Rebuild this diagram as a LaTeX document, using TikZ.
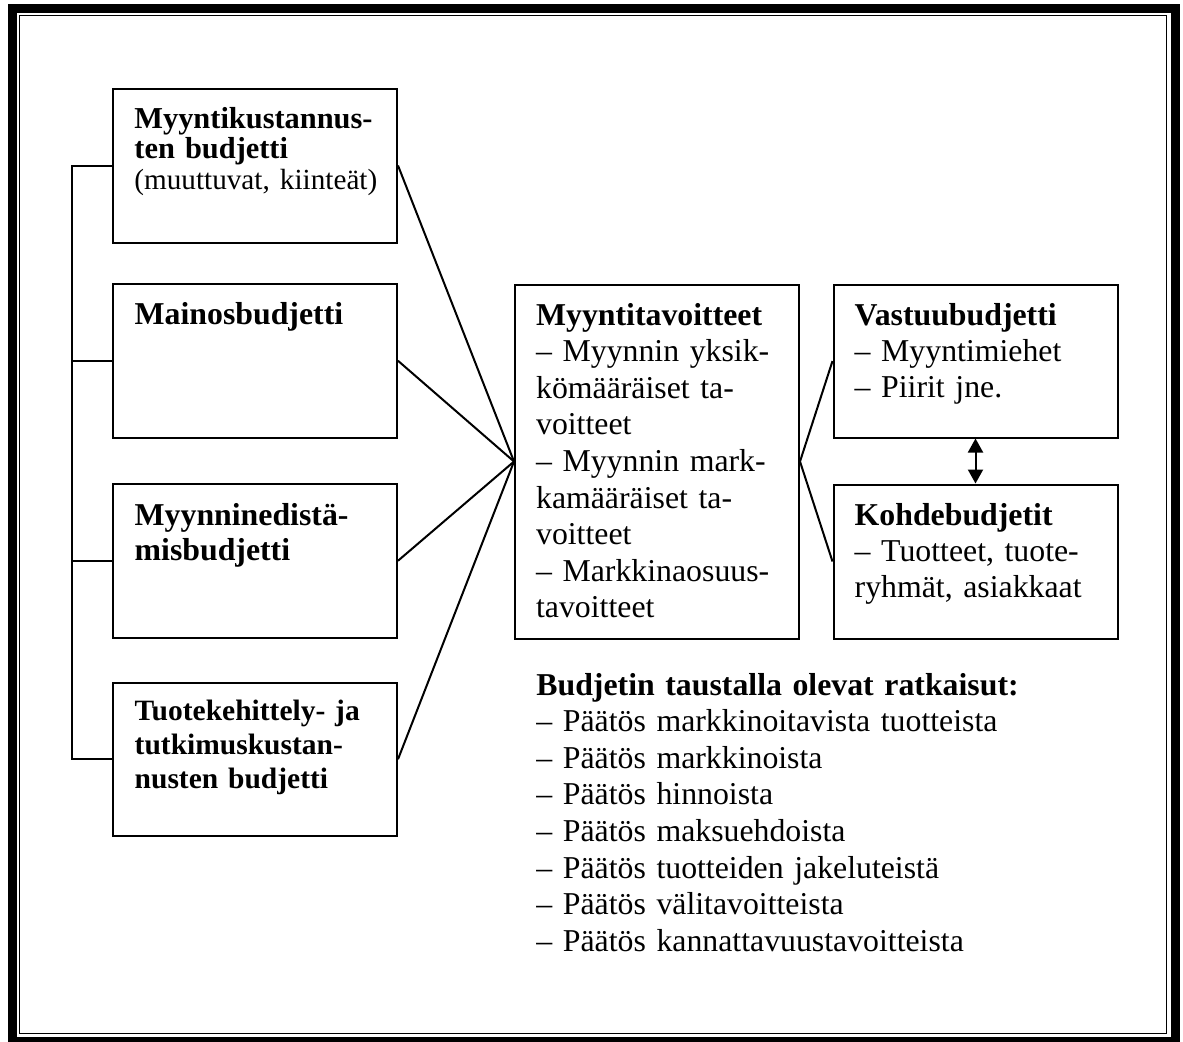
\documentclass[tikz,border=0pt]{standalone}
\usepackage{fontspec}
\setmainfont{Liberation Serif}
\usetikzlibrary{arrows.meta,fit}
\begin{document}
\begin{tikzpicture}[x=0.5pt,y=-0.5pt,
  box/.style={draw, line width=1pt, inner sep=0pt},
  conn/.style={line width=1pt},
  txt/.style={anchor=base west, inner sep=0pt, align=left, text width=150pt},
  bigfont/.style={font={\fontsize{15.9pt}{18.3pt}\selectfont}},
  smfont/.style={font={\fontsize{14.75pt}{17pt}\selectfont}},
  tip/.style={{Triangle[width=7.5pt,length=7pt]}-{Triangle[width=7.5pt,length=7pt]}}
]
\useasboundingbox (0,0) rectangle (1183,1041);
% frame
\draw[line width=4.5pt] (12.5,8.5) rectangle (1175.5,1041);
\draw[line width=0.75pt] (19.5,15.5) rectangle (1166.5,1033.5);

% boxes
\node[box, fit={(112.5,88.5) (397,242.5)}] (b1) {};
\node[box, fit={(112.5,284) (397,437.5)}] (b2) {};
\node[box, fit={(112.5,484) (397,637.5)}] (b3) {};
\node[box, fit={(112.5,683) (397,835.5)}] (b4) {};
\node[box, fit={(515,284.5) (799,638.5)}] (c) {};
\node[box, fit={(833.5,284.5) (1117.5,437.5)}] (v) {};
\node[box, fit={(833.5,484.5) (1117.5,638.5)}] (k) {};

% texts
\node[txt, font={\fontsize{15.2pt}{15.4pt}\selectfont}] (t1) at (134,128)
  {\textbf{Myyntikustannus-}\\\textbf{ten budjetti}\\{\fontsize{14.6pt}{15.4pt}\selectfont(muuttuvat, kiinteät)}};
\node[txt, bigfont] (t2) at (134.3,324.3) {\textbf{Mainosbudjetti}};
\node[txt, font={\fontsize{15.9pt}{17.9pt}\selectfont}] (t3) at (134.3,525)
  {\textbf{Myynninedistä-}\\\textbf{misbudjetti}};
\node[txt, smfont] (t4) at (134.3,720)
  {\textbf{Tuotekehittely- ja}\\\textbf{tutkimuskustan-}\\\textbf{nusten budjetti}};
\node[txt, bigfont] (tc) at (535.7,325)
  {\textbf{Myyntitavoitteet}\\– Myynnin yksik-\\kömääräiset ta-\\voitteet\\– Myynnin mark-\\kamääräiset ta-\\voitteet\\– Markkinaosuus-\\tavoitteet};
\node[txt, font={\fontsize{15.9pt}{18pt}\selectfont}] (tv) at (854.3,325)
  {\textbf{Vastuubudjetti}\\– Myyntimiehet\\– Piirit jne.};
\node[txt, font={\fontsize{15.9pt}{18pt}\selectfont}] (tk) at (854.3,525)
  {\textbf{Kohdebudjetit}\\– Tuotteet, tuote-\\ryhmät, asiakkaat};
\node[txt, bigfont, text width=280pt] (tb) at (536,695)
  {\textbf{Budjetin taustalla olevat ratkaisut:}\\
   – Päätös markkinoitavista tuotteista\\
   – Päätös markkinoista\\
   – Päätös hinnoista\\
   – Päätös maksuehdoista\\
   – Päätös tuotteiden jakeluteistä\\
   – Päätös välitavoitteista\\
   – Päätös kannattavuustavoitteista};

% connectors
\coordinate (sp) at (72,0);
\draw[conn] (b1.west) -- (b1.west -| sp) -- (b4.west -| sp) -- (b4.west);
\draw[conn] (b2.west) -- (b2.west -| sp);
\draw[conn] (b3.west) -- (b3.west -| sp);
\draw[conn] (b1.east) -- (c.west);
\draw[conn] (b2.east) -- (c.west);
\draw[conn] (b3.east) -- (c.west);
\draw[conn] (b4.east) -- (c.west);
\draw[conn] (c.east) -- (v.west);
\draw[conn] (c.east) -- (k.west);
\draw[conn, tip] (v.south) -- (k.north);
\end{tikzpicture}
\end{document}
